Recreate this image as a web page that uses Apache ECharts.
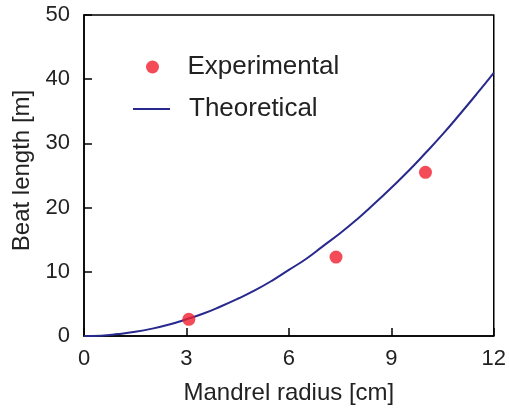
<!DOCTYPE html>
<html>
<head>
<meta charset="utf-8">
<script src="https://cdn.jsdelivr.net/npm/echarts@6/dist/echarts.min.js"></script>
<style>
  html, body { margin: 0; padding: 0; background: #fff; }
  #chart { width: 509px; height: 410px; }
</style>
</head>
<body>
<div id="chart"></div>
<script>
// values
const xTicks = [0, 3, 6, 9, 12];
const yTicks = [0, 10, 20, 30, 40, 50];

const expRadius = [3.07, 7.38, 10.0];
const expBeat = [2.6, 12.3, 25.5];

const theoRadius = [0, 0.5, 1, 1.5, 2, 2.5, 3, 3.5, 4, 4.5, 5, 5.5, 6, 6.5, 7, 7.5, 8, 8.5, 9, 9.5, 10, 10.5, 11, 11.5, 12];
const theoBeat = [0, 0.05, 0.3, 0.65, 1.15, 1.8, 2.6, 3.5, 4.6, 5.8, 7.1, 8.6, 10.3, 12.0, 14.0, 16.0, 18.2, 20.6, 23.1, 25.7, 28.5, 31.4, 34.5, 37.7, 41.0];

const font = "Liberation Sans, Arial, sans-serif";
const textColor = "#222";
const chart = echarts.init(document.getElementById("chart"));

const option = {
  animation: false,
  grid: {
    left: 84,
    right: 13,
    top: 15,
    bottom: 72,
    show: true,
    borderColor: "#000",
    borderWidth: 1.5,
  },
  legend: [
    {
      data: ["Experimental"],
      left: 141,
      top: 49,
      itemWidth: 46,
      itemHeight: 13,
      textStyle: { fontSize: 26, color: textColor, fontFamily: font, padding: [0, 0, 0, 7] },
    },
    {
      data: [{ name: "Theoretical", icon: "rect" }],
      left: 128,
      top: 91,
      itemWidth: 37,
      itemHeight: 2,
      textStyle: { fontSize: 26, color: textColor, fontFamily: font, padding: [0, 0, 0, 14] },
    },
  ],
  xAxis: {
    type: "value",
    min: 0,
    max: 12,
    interval: 3,
    name: "Mandrel radius [cm]",
    nameLocation: "middle",
    nameGap: 45,
    nameTextStyle: { fontSize: 24, color: textColor, fontFamily: font },
    axisLine: { lineStyle: { color: "#000", width: 1.5 } },
    axisTick: { inside: true, length: 8, lineStyle: { color: "#000", width: 1.5 } },
    axisLabel: { fontSize: 22, color: textColor, fontFamily: font, margin: 12 },
    splitLine: { show: false },
  },
  yAxis: {
    type: "value",
    min: 0,
    max: 50,
    interval: 10,
    name: "Beat length [m]",
    nameLocation: "middle",
    nameGap: 47,
    nameTextStyle: { fontSize: 24, color: textColor, fontFamily: font, padding: [0, 0, 0, 10] },
    axisLine: { lineStyle: { color: "#000", width: 1.5 } },
    axisTick: { inside: true, length: 8, lineStyle: { color: "#000", width: 1.5 } },
    axisLabel: { fontSize: 22, color: textColor, fontFamily: font, margin: 14 },
    splitLine: { show: false },
  },
  series: [
    {
      name: "Experimental",
      type: "scatter",
      symbol: "circle",
      symbolSize: 13,
      itemStyle: { color: "#f01f2e" },
      data: expRadius.map((r, i) => [r, expBeat[i]]),
      z: 3,
    },
    {
      name: "Theoretical",
      type: "line",
      smooth: true,
      showSymbol: false,
      symbol: "none",
      lineStyle: { color: "#28298c", width: 2 },
      itemStyle: { color: "#28298c" },
      data: theoRadius.map((r, i) => [r, theoBeat[i]]),
      z: 2,
    },
  ],
};

chart.setOption(option);
</script>
</body>
</html>
